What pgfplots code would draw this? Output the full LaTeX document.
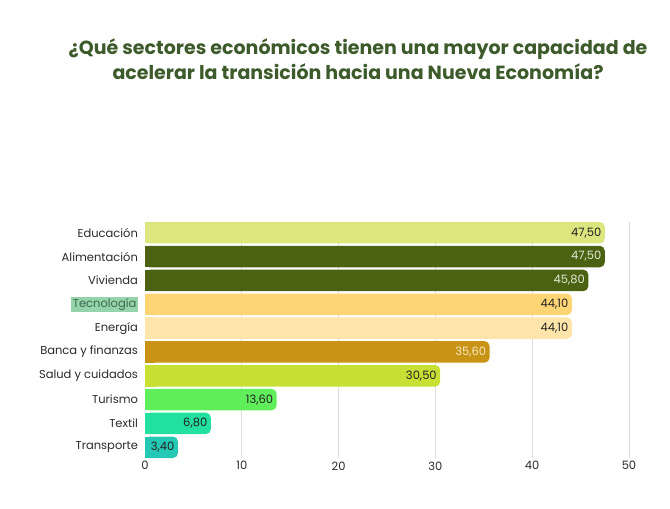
\documentclass[border=0pt]{standalone}
\usepackage{pgfplots}
\pgfplotsset{compat=1.18}
\usepackage{fontspec}
\setmainfont{Poppins}
\definecolor{cEdu}{HTML}{DCE67E}
\definecolor{cAli}{HTML}{4A6212}
\definecolor{cViv}{HTML}{4A6212}
\definecolor{cTec}{HTML}{FED574}
\definecolor{cEne}{HTML}{FFE5AA}
\definecolor{cBan}{HTML}{C99415}
\definecolor{cSal}{HTML}{C8E034}
\definecolor{cTur}{HTML}{60EE5A}
\definecolor{cTex}{HTML}{22E0A0}
\definecolor{cTra}{HTML}{25C8B4}
\definecolor{hl}{HTML}{95D4AA}
\definecolor{tecc}{HTML}{3A6A50}
\definecolor{titlec}{HTML}{3D5A2B}
\definecolor{tickc}{HTML}{2A2A2A}
\definecolor{gridc}{HTML}{DDDDDD}
\definecolor{darktxt}{HTML}{222222}
\definecolor{lighttxt}{HTML}{E4EAD4}
\definecolor{creamtxt}{HTML}{F5E6C0}
\begin{document}
\begin{tikzpicture}
\path[use as bounding box] (0,0) rectangle (670pt,-509pt);
\node[font=\fontsize{19}{25}\selectfont\bfseries, text=titlec, align=center] at (358pt,-59.5pt) {¿Qué sectores económicos tienen una mayor capacidad de\\acelerar la transición hacia una Nueva Economía?};
\setlength\fboxsep{1.5pt}
\begin{axis}[
  at={(145pt,-458pt)}, anchor=south west,
  scale only axis, width=484pt, height=236pt,
  xmin=0, xmax=50, ymin=-0.45, ymax=9.45,
  xbar, bar width=21.5pt, bar shift=0pt,
  xtick={10,20,...,50},
  extra x ticks={0}, extra x tick style={grid=none},
  ytick={0,...,9},
  yticklabels={Transporte,Textil,Turismo,Salud y cuidados,Banca y finanzas,Energía,{\colorbox{hl}{\color{tecc}Tecnología}},Vivienda,Alimentación,Educación},
  axis line style={draw=none}, major tick length=0pt,
  xmajorgrids, grid style={draw=gridc, line width=0.8pt},
  tick label style={font=\fontsize{11.5}{13}\selectfont, text=tickc},
  yticklabel style={xshift=-3.5pt},
  /pgf/number format/assume math mode=true,
  every node near coord/.append style={anchor=east, font=\fontsize{11.5}{13}\selectfont,
    /pgf/number format/fixed, /pgf/number format/fixed zerofill,
    /pgf/number format/precision=2, /pgf/number format/use comma},
  clip=false,
]
% Educacion
\addplot[fill=cEdu, draw=none] coordinates {(1,9)};
\addplot[fill=cEdu, draw=none, rounded corners=5pt, nodes near coords, every node near coord/.append style={text=darktxt}] coordinates {(47.5,9)};
% Alimentacion
\addplot[fill=cAli, draw=none] coordinates {(1,8)};
\addplot[fill=cAli, draw=none, rounded corners=5pt, nodes near coords, every node near coord/.append style={text=lighttxt}] coordinates {(47.5,8)};
% Vivienda
\addplot[fill=cViv, draw=none] coordinates {(1,7)};
\addplot[fill=cViv, draw=none, rounded corners=5pt, nodes near coords, every node near coord/.append style={text=lighttxt}] coordinates {(45.8,7)};
% Tecnologia
\addplot[fill=cTec, draw=none] coordinates {(1,6)};
\addplot[fill=cTec, draw=none, rounded corners=5pt, nodes near coords, every node near coord/.append style={text=darktxt}] coordinates {(44.1,6)};
% Energia
\addplot[fill=cEne, draw=none] coordinates {(1,5)};
\addplot[fill=cEne, draw=none, rounded corners=5pt, nodes near coords, every node near coord/.append style={text=darktxt}] coordinates {(44.1,5)};
% Banca
\addplot[fill=cBan, draw=none] coordinates {(1,4)};
\addplot[fill=cBan, draw=none, rounded corners=5pt, nodes near coords, every node near coord/.append style={text=creamtxt}] coordinates {(35.6,4)};
% Salud
\addplot[fill=cSal, draw=none] coordinates {(1,3)};
\addplot[fill=cSal, draw=none, rounded corners=5pt, nodes near coords, every node near coord/.append style={text=darktxt}] coordinates {(30.5,3)};
% Turismo
\addplot[fill=cTur, draw=none] coordinates {(1,2)};
\addplot[fill=cTur, draw=none, rounded corners=5pt, nodes near coords, every node near coord/.append style={text=darktxt}] coordinates {(13.6,2)};
% Textil
\addplot[fill=cTex, draw=none] coordinates {(1,1)};
\addplot[fill=cTex, draw=none, rounded corners=5pt, nodes near coords, every node near coord/.append style={text=darktxt}] coordinates {(6.8,1)};
% Transporte
\addplot[fill=cTra, draw=none] coordinates {(1,0)};
\addplot[fill=cTra, draw=none, rounded corners=5pt, nodes near coords, every node near coord/.append style={text=darktxt}] coordinates {(3.4,0)};
\end{axis}
\end{tikzpicture}
\end{document}
